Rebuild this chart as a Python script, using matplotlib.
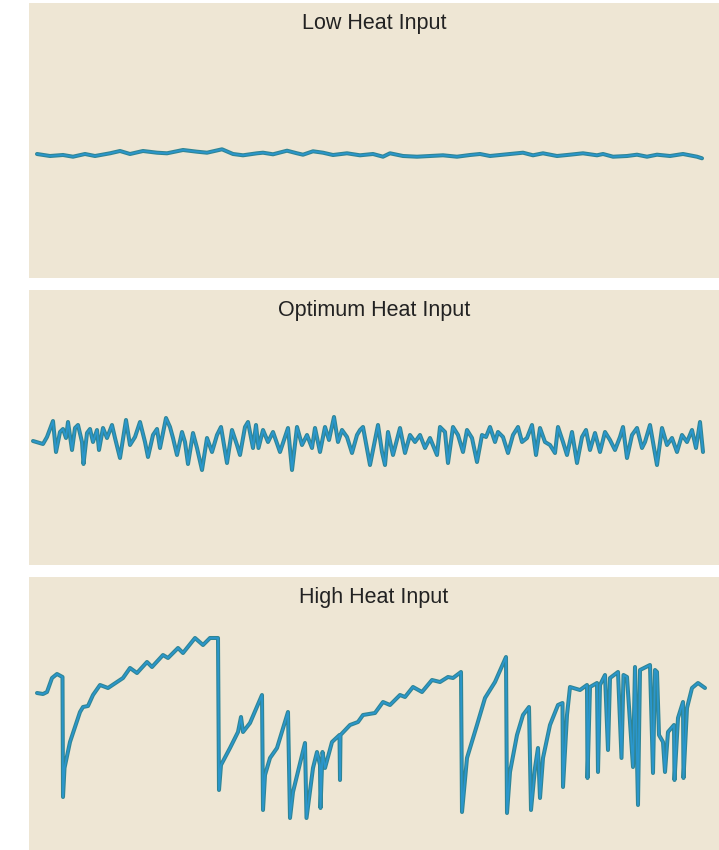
import matplotlib.pyplot as plt

# arc voltage traces (time in px along the trace, signal in px above panel floor)
low_t = [37, 50, 63, 73, 85, 95, 110, 120, 130, 143, 157, 167, 183, 197, 207, 222, 233, 243,
         257, 263, 273, 287, 297, 303, 313, 323, 333, 347, 360, 373, 383, 390, 403, 417, 430,
         443, 457, 470, 480, 490, 503, 523, 533, 543, 557, 570, 583, 597, 603, 613, 627, 637,
         647, 657, 670, 683, 697, 702]
low_v = [124, 122, 123, 121.3, 124, 122, 124.7, 127, 124, 127, 125.3, 124.7, 128, 126.3, 125.3,
         128.7, 124, 122.7, 124.7, 125.3, 123.7, 127.3, 124.7, 123.3, 126.7, 125.3, 123, 124.7,
         122.7, 124, 121.3, 124.7, 122, 121.3, 122, 122.7, 121.3, 123, 124, 122, 123.3, 125.3,
         122.7, 124.7, 122, 123.3, 124.7, 122.7, 124, 121.3, 122, 123.3, 121.3, 123.3, 122, 124,
         121.3, 119.7]

opt_t = [33, 43, 47, 53, 56, 60, 63, 66, 68, 72, 75, 78, 82, 83.5, 87, 90, 93, 97, 99, 103, 107,
         112, 115, 120, 126, 130, 135, 140, 145, 148, 153, 157, 160, 166, 170, 173, 177, 182, 185,
         188, 193, 197, 202, 207, 212, 217, 221, 227, 232, 237, 240, 245, 248, 253, 256, 258.5,
         263, 268, 273, 280, 285, 288, 292, 297, 302, 307, 312, 315, 320, 325, 329, 334, 338, 342,
         347, 352, 357, 360, 363, 370, 378, 382, 385, 388, 393, 400, 405, 410, 415, 420, 425, 430,
         437, 440, 445, 448, 453, 458, 463, 467, 472, 477, 482, 486, 490, 495, 498, 503, 508, 513,
         518, 522, 527, 532, 536, 540, 545, 550, 555, 558, 563, 567, 572, 577, 582, 586, 590, 595,
         600, 605, 610, 615, 620, 623, 627, 632, 637, 642, 645, 650, 657, 662, 667, 672, 677, 682,
         687, 692, 696, 700, 703]
opt_v = [124, 121, 128, 144, 113, 133, 136, 127, 143, 115, 137, 140, 123, 101, 132, 136, 123,
         135, 115, 137, 127, 140, 127, 107, 145, 120, 128, 143, 123, 108, 130, 136, 117, 147, 138,
         127, 110, 133, 123, 101, 132, 117, 95, 127, 113, 130, 138, 102, 135, 120, 110, 138, 143,
         117, 140, 117, 135, 123, 133, 113, 128, 137, 95, 138, 120, 130, 117, 137, 113, 138, 125,
         148, 123, 135, 128, 112, 130, 135, 138, 100, 140, 113, 100, 133, 110, 137, 112, 130, 123,
         130, 117, 127, 110, 138, 133, 102, 138, 130, 113, 135, 127, 103, 130, 128, 138, 123, 133,
         128, 112, 130, 138, 123, 127, 140, 110, 137, 123, 120, 112, 138, 123, 110, 133, 102, 128,
         135, 115, 132, 113, 133, 125, 115, 128, 138, 107, 130, 137, 117, 123, 140, 100, 137, 120,
         127, 113, 130, 123, 135, 117, 143, 113]

high_t = [37, 43, 47, 52, 57, 62.5, 63, 64.5, 70, 80, 83, 88, 93, 100, 108, 117, 123, 130, 137,
          147, 152, 163, 168, 178, 183, 195, 203, 210, 218, 219, 221, 230, 238, 241, 243, 250, 262,
          263, 265, 270, 277, 288, 290, 293, 305, 306.5, 313, 317, 320, 320.5, 322.5, 325, 332,
          339.5, 340, 340.5, 350, 358, 363, 375, 383, 390, 400, 405, 413, 422, 432, 440, 448, 453,
          461, 462, 467, 477, 485, 495, 506, 507, 510, 517, 523, 529, 531, 535, 538, 540, 543, 550,
          558, 562.5, 563, 567, 570, 580, 587, 587.5, 590, 597, 598, 600, 605, 608, 610, 618,
          621.5, 623.5, 627, 633, 635, 638, 640, 650, 653, 655, 657, 659, 663, 665, 668, 674,
          674.5, 678, 683, 683.5, 687, 692, 698, 705]
high_v = [157, 156, 158, 172, 176, 173, 53, 82, 108, 138, 143, 144, 155, 165, 162, 168, 172, 182,
          177, 188, 183, 195, 192, 202, 197, 212, 205, 212, 212, 60, 85, 102, 118, 133, 118, 127,
          155, 40, 75, 92, 102, 138, 32, 58, 107, 32, 82, 98, 85, 42, 98, 82, 108, 115, 70, 115,
          125, 128, 135, 137, 148, 145, 155, 153, 163, 158, 170, 168, 173, 172, 178, 38, 92, 125,
          152, 168, 193, 37, 78, 115, 135, 143, 40, 82, 102, 52, 92, 125, 145, 147, 63, 135, 163,
          160, 165, 72, 163, 167, 78, 165, 175, 100, 172, 178, 92, 175, 173, 83, 183, 45, 180, 185,
          77, 180, 178, 115, 108, 78, 118, 125, 70, 132, 148, 72, 142, 162, 167, 162]

titles = ['Low Heat Input', 'Optimum Heat Input', 'High Heat Input']
traces = [(low_t, low_v), (opt_t, opt_v), (high_t, high_v)]

plt.rcParams['font.family'] = ['Liberation Sans', 'DejaVu Sans']
fig = plt.figure(figsize=(7.19, 8.5), dpi=100)

# panel boxes in pixels: (top, bottom)
boxes = [(3, 278), (290, 565), (577, 850)]
for (top, bot), title, (t, v) in zip(boxes, titles, traces):
    h = bot - top
    ax = fig.add_axes([29 / 719, 1 - bot / 850, 690 / 719, h / 850])
    ax.set_facecolor('#EEE6D4')
    ax.plot(t, v, color='#2f8595', lw=2.9, solid_joinstyle='round', solid_capstyle='round')
    ax.plot(t, v, color='#2a96cc', lw=1.3, solid_joinstyle='round', solid_capstyle='round')
    ax.set_xlim(29, 719)
    ax.set_ylim(0, h)
    ax.text(0.5, 1 - 26 / h, title, transform=ax.transAxes, ha='center', va='baseline',
            fontsize=15.5, color='#222222')
    for s in ax.spines.values():
        s.set_visible(False)
    ax.set_xticks([])
    ax.set_yticks([])

fig.savefig('out.png', dpi=100, facecolor='white')
